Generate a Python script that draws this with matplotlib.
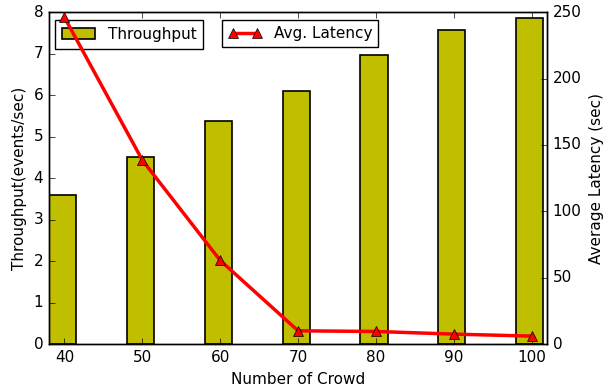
import numpy as np
import matplotlib
matplotlib.use('Agg')
import matplotlib.pyplot as plt

plt.style.use('classic')

# 数据
crowd = np.array([40, 50, 60, 70, 80, 90, 100])
throughput = [3.6, 4.5, 5.38, 6.1, 6.97, 7.57, 7.87]
latency = [246, 138.5, 63, 10, 9.5, 7.5, 6]

fig, ax = plt.subplots(figsize=(6.04, 3.91), dpi=100)
fig.subplots_adjust(left=0.081, right=0.906, top=0.969, bottom=0.12)

# 吞吐量柱状图
ax.bar(crowd - 2, throughput, width=3.5, align='edge', color='y',
       edgecolor='black', linewidth=1.2, label='Throughput')
ax.set_xlim(38, 102)
ax.set_ylim(0, 8)
ax.set_xticks(crowd)
ax.set_xlabel('Number of Crowd', fontsize=11)
ax.set_ylabel('Throughput(events/sec)', fontsize=11)
ax.tick_params(labelsize=11)
ax.legend(loc='upper left', fontsize=11, bbox_to_anchor=(0.012, 0.976),
          borderaxespad=0, handlelength=2.2, borderpad=0.45)

# 平均延迟折线
ax2 = ax.twinx()
ax2.plot(crowd, latency, color='red', linewidth=2.5, marker='^',
         markersize=7.5, markerfacecolor='red', markeredgecolor='black',
         label='Avg. Latency')
ax2.set_ylim(0, 250)
ax2.set_xlim(38, 102)
ax2.set_ylabel('Average Latency (sec)', fontsize=11)
ax2.tick_params(labelsize=11)
ax2.legend(loc='upper left', fontsize=11, bbox_to_anchor=(0.347, 0.976),
           borderaxespad=0, handlelength=2.2, borderpad=0.4)

plt.savefig('out.png', dpi=100)
